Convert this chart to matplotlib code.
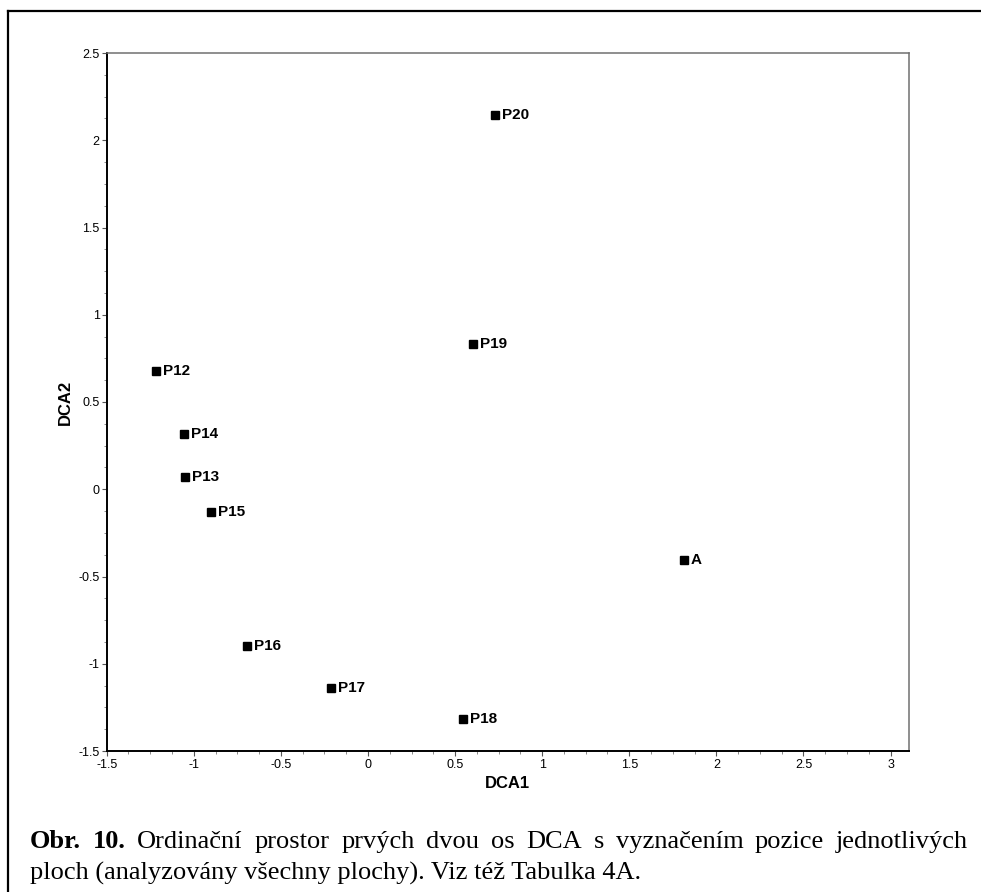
"""DCA ordinace ploch — první dvě osy s popisem obrázku."""
import matplotlib

matplotlib.use("Agg")
import matplotlib.pyplot as plt
from matplotlib.lines import Line2D
from matplotlib.ticker import FixedLocator, MultipleLocator

plochy = ["P12", "P13", "P14", "P15", "P16", "P17", "P18", "P19", "P20", "A"]
dca1 = [-1.217, -1.049, -1.058, -0.903, -0.693, -0.214, 0.545, 0.601, 0.729, 1.814]
dca2 = [0.679, 0.068, 0.318, -0.132, -0.897, -1.141, -1.318, 0.832, 2.145, -0.405]

x_ticks = [-1.5, -1, -0.5, 0, 0.5, 1, 1.5, 2, 2.5, 3]
y_ticks = [-1.5, -1, -0.5, 0, 0.5, 1, 1.5, 2, 2.5]

popis_1 = [("Obr.", "bold"), ("10.", "bold"), ("Ordinační", "normal"),
           ("prostor", "normal"), ("prvých", "normal"), ("dvou", "normal"),
           ("os", "normal"), ("DCA", "normal"), ("s", "normal"),
           ("vyznačením", "normal"), ("pozice", "normal"),
           ("jednotlivých", "normal")]
popis_2 = "ploch (analyzovány všechny plochy). Viz též Tabulka 4A."

W, H = 981, 892
plt.rcParams["font.family"] = ["Liberation Sans", "DejaVu Sans"]
plt.rcParams["axes.unicode_minus"] = False

fig = plt.figure(figsize=(W / 100, H / 100), dpi=100)
ax = fig.add_axes([106.7 / W, 1 - 751 / H, (909 - 106.7) / W, (751 - 53) / H])

# 1. body ploch
ax.plot(dca1, dca2, ls="none", marker="s", ms=5.3, color="black")
for nazev, x, y in zip(plochy, dca1, dca2):
    ax.annotate(nazev, (x, y), xytext=(5, 0), textcoords="offset points",
                va="center", ha="left", fontsize=11, fontweight="bold")

ax.set_xlim(-1.5, 3.106)
ax.set_ylim(-1.5, 2.5)
ax.xaxis.set_major_locator(FixedLocator(x_ticks))
ax.yaxis.set_major_locator(FixedLocator(y_ticks))
ax.set_xticklabels([f"{v:g}" for v in x_ticks])
ax.set_yticklabels([f"{v:g}" for v in y_ticks])
ax.xaxis.set_minor_locator(MultipleLocator(0.125))
ax.yaxis.set_minor_locator(MultipleLocator(0.125))
ax.tick_params(which="major", direction="out", length=3.5, width=0.8,
               color="#555555", labelsize=9, pad=1.5)
ax.tick_params(axis="x", which="major", pad=2.5)
ax.tick_params(which="minor", direction="out", length=2.5, width=0.6,
               color="#777777")

for side in ("left", "bottom"):
    ax.spines[side].set_linewidth(1.4)
    ax.spines[side].set_color("black")
for side in ("top", "right"):
    ax.spines[side].set_linewidth(1.1)
    ax.spines[side].set_color("#707070")

ax.set_xlabel("DCA1", fontsize=12, fontweight="bold", labelpad=3)
ax.set_ylabel("DCA2", fontsize=12, fontweight="bold", labelpad=4)

# 2. rámeček kolem obrázku (vlevo a nahoře)
fig.add_artist(Line2D([8 / W, 8 / W], [0, 1 - 11 / H], color="black", lw=1.6,
                      transform=fig.transFigure))
fig.add_artist(Line2D([8 / W, 1], [1 - 11 / H, 1 - 11 / H], color="black", lw=1.6,
                      transform=fig.transFigure))

# 3. popis obrázku, první řádek zarovnaný do bloku
cap_kw = dict(family=["Liberation Serif", "DejaVu Serif"], fontsize=19,
              va="baseline", ha="left")
y1 = 1 - 848 / H
y2 = 1 - 880 / H
x_left, x_right = 30, 968

r = fig.canvas.get_renderer()
slova = [fig.text(0, y1, w, fontweight=wt, **cap_kw) for w, wt in popis_1]
sirky = [t.get_window_extent(r).width for t in slova]
mezera = (x_right - x_left - sum(sirky)) / (len(slova) - 1)
x = x_left
for t, s in zip(slova, sirky):
    t.set_x(x / W)
    x += s + mezera

fig.text(x_left / W, y2, popis_2, **cap_kw)

fig.savefig("out.png", dpi=100)
